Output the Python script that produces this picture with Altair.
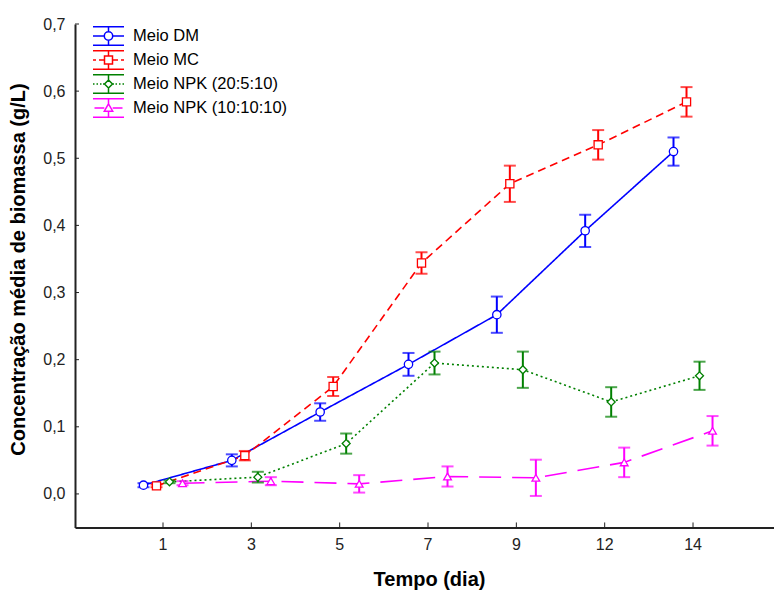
import altair as alt
import pandas as pd

days = [1, 3, 5, 7, 9, 12, 14]
series = ["Meio DM", "Meio MC", "Meio NPK (20:5:10)", "Meio NPK (10:10:10)"]
dm = [0.013, 0.050, 0.122, 0.193, 0.267, 0.392, 0.510]
dm_err = [0.003, 0.009, 0.013, 0.017, 0.027, 0.024, 0.021]
mc = [0.012, 0.057, 0.160, 0.344, 0.462, 0.520, 0.584]
mc_err = [0.002, 0.007, 0.014, 0.016, 0.027, 0.022, 0.022]
npk20 = [0.018, 0.025, 0.075, 0.195, 0.185, 0.137, 0.176]
npk20_err = [0.002, 0.008, 0.015, 0.017, 0.027, 0.022, 0.021]
npk10 = [0.016, 0.019, 0.015, 0.026, 0.024, 0.047, 0.094]
npk10_err = [0.003, 0.006, 0.013, 0.015, 0.027, 0.022, 0.022]
y_ticks = [0, 0.1, 0.2, 0.3, 0.4, 0.5, 0.6, 0.7]

rows = []
for s, vals, errs in zip(series, [dm, mc, npk20, npk10], [dm_err, mc_err, npk20_err, npk10_err]):
    for d, v, e in zip(days, vals, errs):
        rows.append({"day": d, "serie": s, "v": v, "lo": v - e, "hi": v + e})
df = pd.DataFrame(rows)
df_days = pd.DataFrame({"day": days})
df_yt = pd.DataFrame({"t": y_ticks})

colors = ["#0000FF", "#FF0000", "#008000", "#FF00FF"]
dashes = [[1, 0], [8, 5], [2, 3], [22, 11]]
shapes = ["circle", "square", "diamond", "triangle-up"]
sizes = [70, 60, 55, 70]

caps = "M-1.55,-0.93H1.55M-1.55,0.93H1.55"
leg_shapes = [
    caps + "M0,-0.93V-0.42M0,0.42V0.93M-1.55,0H-0.42M0.42,0H1.55"
    "M0.42,0A0.42,0.42 0 1,1 -0.42,0A0.42,0.42 0 1,1 0.42,0Z",
    caps + "M0,-0.93V-0.4M0,0.4V0.93M-1.55,0H-1.25M-0.95,0H-0.4M0.4,0H0.95M1.25,0H1.55"
    "M-0.4,-0.4H0.4V0.4H-0.4Z",
    caps + "M0,-0.93V-0.4M0,0.4V0.93M-1.55,0H-1.4M-1.2,0H-1.05M-0.85,0H-0.7M-0.55,0H-0.4"
    "M0.4,0H0.55M0.7,0H0.85M1.05,0H1.2M1.4,0H1.55"
    "M0,-0.4L0.4,0L0,0.4L-0.4,0Z",
    caps + "M0,-0.93V-0.42M0,0.32V0.93M-1.4,0H-0.42M0.42,0H1.4"
    "M0,-0.42L0.42,0.32L-0.42,0.32Z",
]

FONT = "Liberation Sans"
xenc = alt.X(
    "day:O",
    sort=days,
    scale=alt.Scale(paddingInner=0.411, paddingOuter=0.662, align=0.53),
    axis=alt.Axis(
        title="Tempo (dia)",
        ticks=False,
        labelAngle=0,
        labelFontSize=16,
        labelPadding=9,
        labelColor="#222222",
        labelFont=FONT,
        domainColor="#222222",
        domainWidth=2,
        titleFont=FONT,
        titleFontSize=20,
        titleFontWeight="bold",
        titleColor="black",
        titleX=354,
        titleY=52,
        titleBaseline="middle",
    ),
)
off = alt.XOffset("serie:N", sort=series, scale=alt.Scale(domain=series, paddingInner=0, paddingOuter=0))
yscale = alt.Scale(domain=[-0.05, 0.7], nice=False, zero=False)
yenc = alt.Y(
    "v:Q",
    scale=yscale,
    axis=alt.Axis(
        title="Concentração média de biomassa (g/L)",
        values=y_ticks,
        labelExpr="replace(format(datum.value, '.1f'), '.', ',')",
        grid=False,
        ticks=False,
        domainColor="#222222",
        domainWidth=2,
        labelFontSize=16,
        labelPadding=10,
        labelColor="#222222",
        labelFont=FONT,
        titleFont=FONT,
        titleFontSize=20,
        titleFontWeight="bold",
        titleColor="black",
        titleX=-57,
        titleY=245,
        titleBaseline="middle",
    ),
)
col = alt.Color("serie:N", scale=alt.Scale(domain=series, range=colors), legend=None)

base = alt.Chart(df)

lines = base.mark_line(strokeWidth=1.6).encode(
    x=xenc, xOffset=off, y=yenc, color=col,
    strokeDash=alt.StrokeDash("serie:N", scale=alt.Scale(domain=series, range=dashes), legend=None),
)
err = base.mark_rule(strokeWidth=2).encode(x=xenc, xOffset=off, y=alt.Y("lo:Q", scale=yscale), y2="hi:Q", color=col)
cap_lo = base.mark_tick(thickness=2, size=12, orient="horizontal").encode(
    x=xenc, xOffset=off, y=alt.Y("lo:Q", scale=yscale), color=col)
cap_hi = base.mark_tick(thickness=2, size=12, orient="horizontal").encode(
    x=xenc, xOffset=off, y=alt.Y("hi:Q", scale=yscale), color=col)
pts = base.mark_point(filled=True, fill="white", strokeWidth=1.3, opacity=1).encode(
    x=xenc, xOffset=off, y=yenc,
    stroke=alt.Stroke("serie:N", scale=alt.Scale(domain=series, range=colors), legend=None),
    shape=alt.Shape("serie:N", scale=alt.Scale(domain=series, range=shapes), legend=None),
    size=alt.Size("serie:N", scale=alt.Scale(domain=series, range=sizes), legend=None),
)
xticks = alt.Chart(df_days).mark_rule(color="#222222", strokeWidth=1).encode(
    x=alt.X("day:O", sort=days), y=alt.datum(-0.05), y2=alt.datum(-0.0425))
yticks = alt.Chart(df_yt).mark_rule(color="#222222", strokeWidth=1).encode(
    y=alt.Y("t:Q", scale=yscale), x=alt.value(0), x2=alt.value(4))

legend_layer = base.transform_filter("false").mark_point(
    filled=True, fill="white", strokeWidth=1.5, size=400, opacity=1
).encode(
    stroke=alt.Stroke(
        "serie:N",
        scale=alt.Scale(domain=series, range=colors),
        legend=alt.Legend(
            title=None,
            orient="none",
            legendX=22.5,
            legendY=1,
            symbolSize=400,
            symbolStrokeWidth=1.5,
            symbolFillColor="white",
            labelFontSize=16.5,
            labelFont=FONT,
            labelColor="black",
            labelOffset=13.5,
            rowPadding=-3.1,
            padding=0,
        ),
    ),
    shape=alt.Shape("serie:N", scale=alt.Scale(domain=series, range=leg_shapes)),
)

chart = alt.layer(lines, err, cap_lo, cap_hi, pts, xticks, yticks, legend_layer).resolve_scale(
    shape="independent", stroke="independent", size="independent"
).properties(
    width=699, height=503.5,
    padding={"left": 75, "top": 24, "right": 0, "bottom": 65.5},
    autosize="none",
).configure_view(stroke=None)

chart.save("out.html", embed_options={"renderer": "svg", "actions": False})
